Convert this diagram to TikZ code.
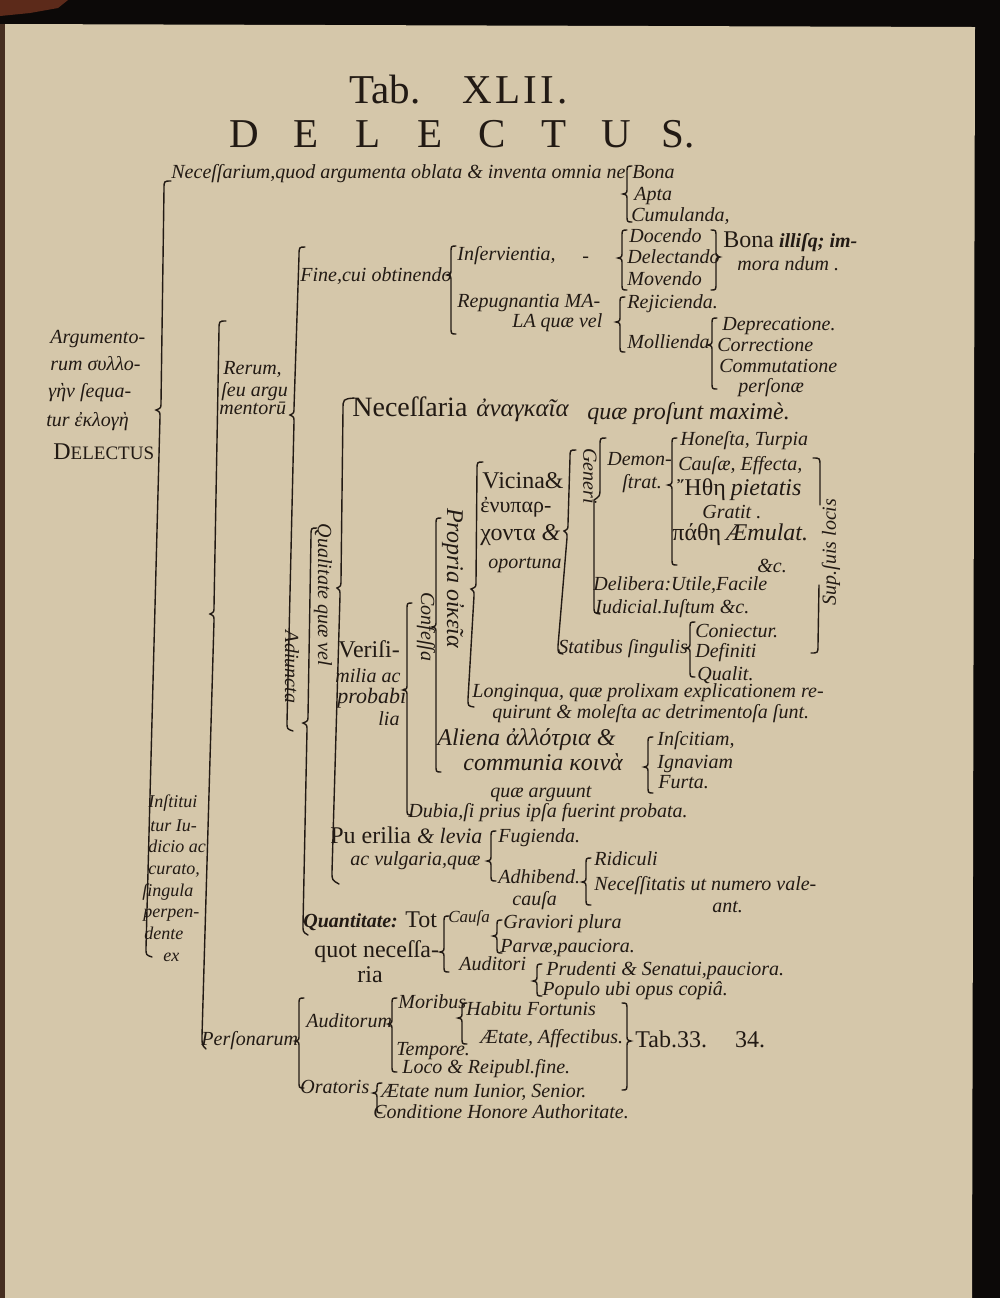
\documentclass[tikz,border=0pt]{standalone}
\usepackage{fontspec}
\setmainfont{Liberation Serif}
\usepackage{graphicx}

\definecolor{paper}{RGB}{213,199,170}
\definecolor{ink}{RGB}{34,26,20}
\definecolor{spine}{RGB}{12,9,8}
\definecolor{rust}{RGB}{92,42,26}
\definecolor{edge}{RGB}{70,46,32}

\newcommand{\itf}{\fontsize{10}{12}\selectfont\itshape}
\newcommand{\smit}{\fontsize{9}{11}\selectfont\itshape}
\newcommand{\rmf}{\fontsize{12}{14}\selectfont\upshape}
\newcommand{\bigit}{\fontsize{12}{14}\selectfont\itshape}

\tikzstyle{txt} = [anchor=base west, inner sep=0pt, text=ink, font=\itf]
\tikzstyle{rmtxt} = [txt, font=\rmf]
\tikzstyle{bigtxt} = [txt, font=\bigit]
\tikzstyle{sidetxt} = [inner sep=0pt, text=ink, font=\itf, rotate=-90]
\tikzstyle{uptxt} = [inner sep=0pt, text=ink, font=\itf, rotate=90]
\tikzstyle{brc} = [draw=ink, line width=0.7pt, line cap=round]
\tikzstyle{head} = [anchor=base, inner sep=0pt, text=ink, font=\fontsize{20.5}{24}\selectfont]

% brace opening to the right: x, top, tip, bottom
\newcommand{\curlyl}[4]{%
  \draw[brc] (#1+5,#2) .. controls (#1,#2) .. (#1,#2+7)
    -- (#1,#3-6) .. controls (#1,#3-1) .. (#1-4,#3)
    .. controls (#1,#3+1) .. (#1,#3+6)
    -- (#1,#4-7) .. controls (#1,#4) .. (#1+5,#4);}
% brace opening to the left
\newcommand{\curlyr}[4]{%
  \draw[brc] (#1-5,#2) .. controls (#1,#2) .. (#1,#2+7)
    -- (#1,#3-6) .. controls (#1,#3-1) .. (#1+4,#3)
    .. controls (#1,#3+1) .. (#1,#3+6)
    -- (#1,#4-7) .. controls (#1,#4) .. (#1-5,#4);}

\begin{document}
\begin{tikzpicture}[x=0.5pt,y=-0.5pt]

    \useasboundingbox (0,0) rectangle (1000,1298);
    \fill[spine] (0,0) rectangle (1000,1298);
    \fill[rust] (0,0) -- (68,0) -- (58,8) -- (30,13) -- (0,16) -- cycle;
    \fill[paper] (5,24) -- (975,27) -- (972,1298) -- (5,1298) -- cycle;
    \fill[edge] (0,24) rectangle (5,1298);

    \node[head] at (385,103) (tab) [] {Tab.};
    \node[head] at (515,103) (tabno) [] {\addfontfeature{LetterSpace=8}XLII.};
    \foreach \l [count=\i] in {D,E,L,E,C,T,U,S.}
      \node[head] at (244+62*\i-62,147) (dl\i) [] {\l};

    %=====================

    \node[txt] at (171,178) (nec) [] {Neceſſarium,quod argumenta oblata \& inventa omnia ne};
    \curlyl{627}{166}{194}{222}
    \node[txt] at (632,178) (bona) [] {Bona};
    \node[txt] at (634,200) (apta) [] {Apta};
    \node[txt] at (631,221) (cum) [] {Cumulanda,};

    \curlyl{622}{230}{258}{290}
    \node[txt] at (629,242) (doc) [] {Docendo};
    \node[txt] at (627,263) (del) [] {Delectando};
    \node[txt] at (627,285) (mov) [] {Movendo};
    \curlyr{716}{230}{257}{290}
    \node[txt] at (723,247) (imm) [] {{\rmf Bona} {\bfseries illiſq; im-}};
    \node[txt] at (737,270) (imm2) [] {mora ndum .};

    \node[txt] at (457,260) (inserv) [] {Inſervientia,};
    \node[txt] at (582,262) (dash) [] {-};
    \curlyl{451}{246}{275}{334}
    \node[txt] at (300,281) (fine) [] {Fine,cui obtinendo};
    \node[txt] at (457,307) (rep) [] {Repugnantia MA-};
    \node[txt] at (512,327) (mala) [] {LA quæ vel};
    \curlyl{620}{297}{322}{352}
    \node[txt] at (627,308) (rej) [] {Rejicienda.};
    \node[txt] at (627,348) (mol) [] {Mollienda};
    \curlyl{712}{318}{345}{389}
    \node[txt] at (722,330) (dep) [] {Deprecatione.};
    \node[txt] at (717,351) (cor) [] {Correctione};
    \node[txt] at (719,372) (com) [] {Commutatione};
    \node[txt] at (738,392) (pers) [] {perſonæ};

    %=====================

    \node[txt] at (50,343) (arg1) [] {Argumento-};
    \node[txt] at (50,370) (arg2) [] {rum συλλο-};
    \node[txt] at (48,397) (arg3) [] {γὴν ſequa-};
    \node[txt] at (46,426) (arg4) [] {tur ἐκλογὴ};
    \node[rmtxt] at (53,459) (arg5) [] {D{\fontsize{9.5}{11}\selectfont ELECTUS}};

    % brace of the whole table
    \draw[brc] (171,181) .. controls (164,181) .. (164,189) -- (161,403)
      .. controls (161,408) .. (156,410) .. controls (160,412) .. (160,417)
      -- (146,948) .. controls (146,955) .. (152,957);

    \node[txt, font=\smit] at (148,807) (ins1) [] {Inſtitui};
    \node[txt, font=\smit] at (150,831) (ins2) [] {tur Iu-};
    \node[txt, font=\smit] at (148,852) (ins3) [] {dicio ac};
    \node[txt, font=\smit] at (148,874) (ins4) [] {curato,};
    \node[txt, font=\smit] at (142,896) (ins5) [] {ſingula};
    \node[txt, font=\smit] at (143,917) (ins6) [] {perpen-};
    \node[txt, font=\smit] at (144,939) (ins7) [] {dente};
    \node[txt, font=\smit] at (163,961) (ins8) [] {ex};

    \draw[brc] (226,321) .. controls (219,321) .. (219,330) -- (214,607)
      .. controls (214,612) .. (210,614) .. controls (214,616) .. (214,621)
      -- (202,1036) .. controls (202,1045) .. (206,1049);

    \node[txt] at (223,374) (rer1) [] {Rerum,};
    \node[txt] at (221,396) (rer2) [] {ſeu argu};
    \node[txt] at (219,414) (rer3) [] {mentorū};

    \draw[brc] (305,247) .. controls (299,247) .. (299,256) -- (294,408)
      .. controls (294,413) .. (290,415) .. controls (294,417) .. (294,422)
      -- (287,722) .. controls (287,729) .. (293,731);
    \node[sidetxt] at (292,667) (adi) [] {Adiuncta};

    \draw[brc] (317,528) .. controls (311,528) .. (311,536) -- (308,716)
      .. controls (308,721) .. (303,723) .. controls (307,725) .. (307,730)
      -- (303,925) .. controls (303,932) .. (308,935);
    \node[sidetxt] at (323,595) (qual) [] {Qualitate quæ vel};

    \draw[brc] (354,398) .. controls (343,399) .. (343,410) -- (341,580)
      .. controls (341,586) .. (337,588) .. controls (340,590) .. (340,596)
      -- (332,872) .. controls (332,880) .. (339,884);

    %=====================

    \node[rmtxt, font=\fontsize{14}{16}\selectfont] at (352,416) (neca) [] {Neceſſaria};
    \node[bigtxt, font=\fontsize{12.5}{14}\selectfont\itshape] at (476,416) (anank) [] {ἀναγκαῖα};
    \node[bigtxt] at (587,419) (pros) [] {quæ proſunt maximè.};

    \draw[brc] (483,462) .. controls (477,462) .. (477,470) -- (476,582)
      .. controls (476,587) .. (471,589) .. controls (474,591) .. (474,596)
      -- (468,699) .. controls (468,706) .. (474,707);
    \node[sidetxt, font=\bigit] at (453,578) (prop) [] {Propria οἰκεῖα};
    \curlyl{436}{518}{627}{772}
    \node[sidetxt] at (426,627) (conf) [] {Confeſſa};

    \node[rmtxt] at (482,488) (vic) [] {Vicina\&};
    \node[rmtxt, font=\fontsize{11}{13}\selectfont] at (480,512) (enup) [] {ἐνυπαρ-};
    \node[rmtxt] at (480,540) (xont) [] {χοντα {\itshape\&}};
    \node[txt] at (488,568) (opor) [] {oportuna};

    \draw[brc] (576,450) .. controls (570,450) .. (570,458) -- (568,524)
      .. controls (568,529) .. (564,531) .. controls (567,533) .. (567,538)
      -- (558,646) .. controls (558,653) .. (563,654);

    \draw[brc] (606,438) .. controls (600,438) .. (600,446) -- (600,488)
      .. controls (600,496) .. (594,500) -- (594,606)
      .. controls (594,613) .. (600,614);
    \node[sidetxt] at (590,476) (gen) [] {Generi};
    \node[txt] at (607,465) (dem1) [] {Demon-};
    \node[txt] at (622,488) (dem2) [] {ſtrat.};

    \curlyl{672}{438}{485}{565}
    \node[txt] at (680,445) (hon) [] {Honeſta, Turpia};
    \node[txt] at (678,470) (cau) [] {Cauſæ, Effecta,};
    \node[txt] at (677,495) (eth) [] {{\rmf Ἤθη} {\bigit pietatis}};
    \node[txt] at (702,518) (grat) [] {Gratit .};
    \node[txt] at (672,540) (path) [] {{\rmf πάθη} {\bigit Æmulat.}};
    \node[txt] at (757,572) (etc) [] {\&c.};

    \draw[brc] (813,458) .. controls (820,458) .. (820,466) -- (820,505);
    \draw[brc] (819,585) -- (818,645) .. controls (818,653) .. (811,653);
    \node[uptxt] at (831,552) (sup) [] {Sup.ſuis locis};

    \node[txt] at (593,590) (delib) [] {Delibera:Utile,Facile};
    \node[txt] at (595,613) (iud) [] {Iudicial.Iuſtum \&c.};
    \node[txt] at (558,653) (stat) [] {Statibus ſingulis};
    \curlyl{690}{622}{648}{677}
    \node[txt] at (695,637) (conj) [] {Coniectur.};
    \node[txt] at (695,657) (defi) [] {Definiti};
    \node[txt] at (697,680) (qlt) [] {Qualit.};

    \node[txt] at (472,697) (long1) [] {Longinqua, quæ prolixam explicationem re-};
    \node[txt] at (492,718) (long2) [] {quirunt \& moleſta ac detrimentoſa ſunt.};
    \node[bigtxt] at (437,745) (ali1) [] {Aliena ἀλλότρια \&};
    \node[bigtxt] at (463,770) (ali2) [] {communia κοινὰ};
    \node[txt] at (490,797) (argu) [] {quæ arguunt};
    \curlyl{648}{737}{767}{793}
    \node[txt] at (657,745) (insc) [] {Inſcitiam,};
    \node[txt] at (657,768) (ign) [] {Ignaviam};
    \node[txt] at (658,788) (fur) [] {Furta.};

    \curlyl{407}{603}{690}{815}
    \node[rmtxt] at (338,657) (ver1) [] {Veriſi-};
    \node[txt] at (335,682) (ver2) [] {milia ac};
    \node[txt, font=\fontsize{11}{13}\selectfont\itshape] at (337,703) (ver3) [] {probabi};
    \node[txt] at (378,725) (ver4) [] {lia};
    \node[txt] at (408,817) (dub) [] {Dubia,ſi prius ipſa fuerint probata.};

    %=====================

    \node[rmtxt] at (330,843) (pue) [] {Pu erilia {\fontsize{11}{13}\selectfont\itshape\& levia}};
    \curlyl{491}{831}{861}{881}
    \node[txt] at (498,842) (fug) [] {Fugienda.};
    \node[txt] at (350,865) (vul) [] {ac vulgaria,quæ};
    \node[txt] at (498,883) (adh) [] {Adhibend.};
    \node[txt] at (512,905) (causa1) [] {cauſa};
    \curlyl{586}{858}{882}{905}
    \node[txt] at (594,865) (rid) [] {Ridiculi};
    \node[txt] at (594,890) (nec2) [] {Neceſſitatis ut numero vale-};
    \node[txt] at (712,912) (ant) [] {ant.};

    \node[txt, font=\itf\bfseries] at (303,927) (quant) [] {Quantitate:};
    \node[rmtxt] at (405,927) (tot) [] {Tot};
    \curlyl{444}{916}{952}{972}
    \node[txt, font=\fontsize{8.5}{10}\selectfont\itshape] at (448,922) (causa2) [] {Cauſa};
    \curlyl{497}{920}{936}{953}
    \node[txt] at (503,928) (grav) [] {Graviori plura};
    \node[txt] at (500,952) (parv) [] {Parvæ,pauciora.};
    \node[rmtxt] at (314,957) (quot) [] {quot neceſſa-};
    \node[rmtxt] at (357,982) (ria) [] {ria};
    \node[txt] at (459,970) (aud) [] {Auditori};
    \curlyl{537}{964}{981}{996}
    \node[txt] at (546,975) (prud) [] {Prudenti \& Senatui,pauciora.};
    \node[txt] at (542,995) (pop) [] {Populo ubi opus copiâ.};

    %=====================

    \node[txt] at (201,1045) (pson) [] {Perſonarum};
    \curlyl{299}{998}{1041}{1088}
    \node[txt] at (306,1027) (audm) [] {Auditorum};
    \curlyl{392}{998}{1024}{1072}
    \node[txt] at (398,1008) (mor) [] {Moribus};
    \curlyl{462}{1003}{1018}{1044}
    \node[txt] at (466,1015) (hab) [] {Habitu Fortunis};
    \node[txt] at (480,1043) (aet1) [] {Ætate, Affectibus.};
    \node[txt] at (396,1055) (temp) [] {Tempore.};
    \node[txt] at (402,1073) (loco) [] {Loco \& Reipubl.fine.};
    \curlyr{627}{1003}{1041}{1090}
    \node[rmtxt] at (635,1047) (tab2) [] {Tab.33.\hspace{14pt}34.};
    \node[txt] at (300,1093) (orat) [] {Oratoris};
    \curlyl{377}{1083}{1093}{1113}
    \node[txt] at (381,1097) (aet2) [] {Ætate num Iunior, Senior.};
    \node[txt] at (373,1118) (cond) [] {Conditione Honore Authoritate.};

\end{tikzpicture}
\end{document}
